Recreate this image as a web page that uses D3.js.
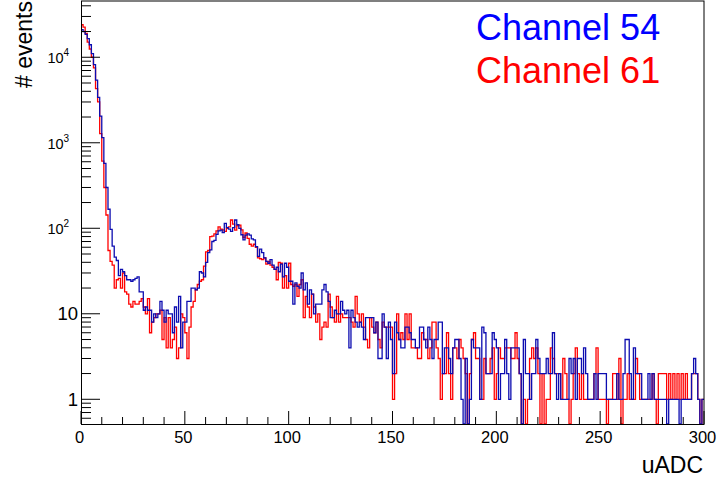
<!DOCTYPE html>
<html>
<head>
<meta charset="utf-8">
<script src="https://cdn.jsdelivr.net/npm/d3@7"></script>
<style>
  body { margin: 0; background: #fff; }
  svg { display: block; font-family: "Liberation Sans", Arial, sans-serif; }
</style>
</head>
<body>
<div class="chart"></div>
<script>
// bin contents, 1 uADC per bin, 0..300
var ch54 = [
  21000,20000,18500,16500,14000,11000,8200,5400,3400,2050,
  1150,575,300,167,97,62,46,42,28,33,
  31,28,25,25,24,25,26,27,18,18,
  11,12,11,11,8,10,9,10,14,11,
  8,11,10,10,6,12,8,16,4,8,
  8,14,14,20,20,19,20,31,30,27,
  40,52,56,70,72,85,93,95,89,114,
  102,98,92,102,125,110,100,84,73,83,
  86,83,75,73,61,47,57,52,45,41,
  39,43,37,33,35,31,38,27,39,35,
  24,24,13,23,21,20,30,19,23,13,
  19,17,10,13,13,13,19,22,18,14,
  9,9,11,10,10,14,11,10,11,4,
  11,9,8,7,8,7,5,9,9,9,
  9,6,8,3,3,10,7,3,8,5,
  2,8,6,5,4,4,7,7,6,5,
  5,4,4,7,7,5,4,7,5,3,
  5,5,8,8,2,4,4,3,2,4,
  5,5,3,1,0,3,0,1,5,4,
  4,4,1,7,6,2,2,2,6,5,
  4,1,2,2,5,2,1,4,4,4,
  4,2,0,5,2,2,1,2,2,5,
  3,2,2,2,3,2,2,6,2,1,
  2,1,1,1,1,3,2,3,1,3,
  3,2,4,2,1,1,1,2,1,2,
  2,2,2,1,1,1,1,1,2,1,
  1,2,5,5,2,1,4,2,2,2,
  1,1,1,2,1,2,1,1,1,1,
  1,1,0,1,1,1,1,1,0,1,
  1,1,1,1,2,3,2,1,0,1
];
var ch61 = [
  24000,22500,19000,15000,12500,10000,7500,4300,3000,1280,
  610,300,143,55,41,37,20,25,26,20,
  30,18,17,13,12,14,13,13,14,15,
  12,10,15,6,8,9,10,10,11,5,
  9,4,9,4,5,7,3,4,10,9,
  6,3,7,12,14,19,22,24,25,36,
  53,55,80,81,86,93,104,98,96,92,
  100,104,125,112,95,107,109,96,78,88,
  76,65,62,65,60,45,44,43,45,38,
  41,37,35,33,25,40,39,20,28,20,
  39,22,21,22,16,22,25,9,16,12,
  9,17,12,8,10,5,7,8,7,17,
  12,9,8,16,8,10,9,9,9,9,
  8,7,16,10,8,10,7,5,4,9,
  7,6,8,5,4,8,7,7,7,7,
  1,2,10,5,6,5,10,5,10,4,
  4,4,3,3,6,5,5,3,4,8,
  8,4,3,1,2,2,6,2,1,4,
  4,3,5,4,3,2,0,2,5,6,
  3,3,1,1,3,2,2,3,4,1,
  2,4,3,3,4,4,4,3,3,6,
  3,2,0,1,0,1,3,4,3,4,
  2,0,2,0,1,1,4,3,2,2,
  2,1,3,2,1,0,1,2,4,2,
  1,2,1,1,1,1,1,2,4,1,
  1,1,1,0,1,1,2,2,1,3,
  0,1,1,2,1,1,1,3,2,1,
  1,1,1,1,1,2,1,0,2,2,
  2,2,1,2,1,2,1,2,1,2,
  1,2,1,1,2,2,2,1,0,1
];
var seriesNames = ['Channel 54', 'Channel 61'];
var seriesColors = ['#0c0cb0', '#ff0000'];
var textColors = ['#0000ff', '#ff0000'];
var xMajor = [0, 50, 100, 150, 200, 250, 300];
var yMajor = [1, 10, 100, 1000, 10000];
var yExp = ['', '', '2', '3', '4'];
var yBase = ['1', '10', '10', '10', '10'];

var width = 721,
	height = 477,
	padLeft = 81, padRight = 704,
	padTop = 1, padBottom = 424,
	yMin = 0.514, yMax = 45500;

var svg = d3.select('.chart').append('svg')
	.attr('width', width)
	.attr('height', height);

var x = d3.scaleLinear().domain([0, 300]).range([padLeft, padRight]);
var y = d3.scaleLog().domain([yMin, yMax]).range([padBottom, padTop]);

function yv(v) {
	return y(Math.max(v, yMin));
}

// step outline like ROOT hist
function stepPoints(vals) {
	var pts = [];
	vals.forEach(function(v, i) {
		pts.push([i, v]);
		pts.push([i + 1, v]);
	});
	return pts;
}
var line = d3.line()
	.x(function(d) { return x(d[0]); })
	.y(function(d) { return yv(d[1]); });

var plot = svg.append('g');
plot.append('path')
	.attr('d', line(stepPoints(ch61)))
	.attr('fill', 'none')
	.attr('stroke', seriesColors[1])
	.attr('stroke-width', 1.3);
plot.append('path')
	.attr('d', line(stepPoints(ch54)))
	.attr('fill', 'none')
	.attr('stroke', seriesColors[0])
	.attr('stroke-width', 1.3);

// frame
svg.append('rect')
	.attr('x', padLeft + 0.5).attr('y', padTop)
	.attr('width', padRight - padLeft - 0.5).attr('height', padBottom - padTop + 0.5)
	.attr('fill', 'none')
	.attr('stroke', '#000')
	.attr('stroke-width', 1);

// x ticks (inside)
var ax = svg.append('g');
d3.range(0, 301, 10).forEach(function(t) {
	var major = t % 50 === 0;
	ax.append('line')
		.attr('x1', x(t)).attr('x2', x(t))
		.attr('y1', padBottom).attr('y2', padBottom - (major ? 13 : 7))
		.attr('stroke', '#000');
});
xMajor.forEach(function(t) {
	ax.append('text')
		.attr('x', x(t) - 1.5)
		.attr('y', 443)
		.attr('text-anchor', 'middle')
		.attr('font-size', '16.5px')
		.text(t);
});

// y ticks (inside)
var ay = svg.append('g');
d3.range(-1, 5).forEach(function(e) {
	d3.range(1, 10).forEach(function(m) {
		var v = m * Math.pow(10, e);
		if (v < yMin || v > yMax) return;
		ay.append('line')
			.attr('x1', padLeft).attr('x2', padLeft + (m === 1 ? 19 : 10))
			.attr('y1', y(v)).attr('y2', y(v))
			.attr('stroke', '#000');
	});
});
yMajor.forEach(function(v, i) {
	if (yExp[i] === '') {
		ay.append('text')
			.attr('x', 78)
			.attr('y', y(v) + 6.5)
			.attr('text-anchor', 'end')
			.attr('font-size', '18.5px')
			.text(yBase[i]);
	} else {
		ay.append('text')
			.attr('x', 47.5)
			.attr('y', y(v) + 5.8)
			.attr('font-size', '14.5px')
			.text(yBase[i]);
		ay.append('text')
			.attr('x', 63.5)
			.attr('y', y(v) - 0.8)
			.attr('font-size', '10px')
			.text(yExp[i]);
	}
});

// axis titles
svg.append('text')
	.attr('x', 703)
	.attr('y', 473)
	.attr('text-anchor', 'end')
	.attr('font-size', '23px')
	.text('uADC');
svg.append('text')
	.attr('transform', 'translate(32,1) rotate(-90)')
	.attr('text-anchor', 'end')
	.attr('font-size', '23px')
	.text('# events');

// legend
seriesNames.forEach(function(n, i) {
	svg.append('text')
		.attr('x', 476)
		.attr('y', 40 + i * 42.7)
		.attr('font-size', '36px')
		.attr('fill', textColors[i])
		.text(n);
});
</script>
</body>
</html>
